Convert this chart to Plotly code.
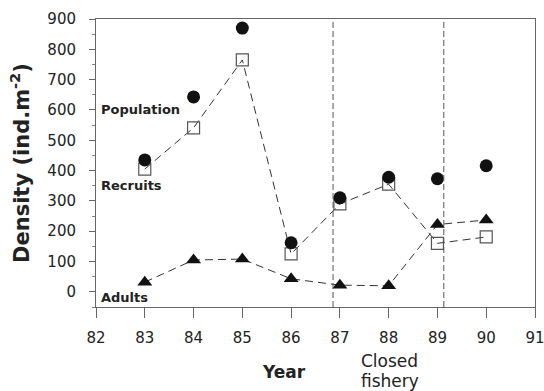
import plotly.graph_objects as go

# Annual density estimates (individuals per m^2)
years = [83, 84, 85, 86, 87, 88, 89, 90]
population = [435, 643, 870, 162, 310, 378, 373, 416]
recruits = [405, 541, 765, 125, 290, 355, 160, 181]
adults = [32, 105, 108, 43, 22, 20, 222, 237]

closure_start = 86.86
closure_end = 89.13

x_ticks = list(range(82, 92))
y_ticks = list(range(0, 1000, 100))

font = "DejaVu Sans, Verdana, sans-serif"
dash = "8px,5px"

fig = go.Figure()

fig.add_trace(go.Scatter(
    x=years, y=recruits, mode="lines+markers",
    line=dict(color="#333333", width=1, dash=dash),
    marker=dict(symbol="square-open", size=12, color="#555555", line=dict(width=1.2)),
    showlegend=False,
))
fig.add_trace(go.Scatter(
    x=years, y=adults, mode="lines+markers",
    line=dict(color="#333333", width=1, dash=dash),
    marker=dict(symbol="triangle-up", size=13, color="#111111"),
    showlegend=False,
))
fig.add_trace(go.Scatter(
    x=years, y=population, mode="markers",
    marker=dict(symbol="circle", size=13, color="#111111"),
    showlegend=False,
))

# Closed fishery period
for xv in (closure_start, closure_end):
    fig.add_shape(type="line", xref="x", yref="paper", x0=xv, x1=xv, y0=0, y1=1,
                  line=dict(color="#555555", width=1, dash="6px,3px"))

# Series labels
for text, yv in (("Population", 600), ("Recruits", 350), ("Adults", -17)):
    fig.add_annotation(x=82.07, y=yv, text=f"<b>{text}</b>", showarrow=False,
                       xanchor="left", yanchor="middle",
                       font=dict(family=font, size=13, color="#222222"))


def below_axis(px):
    """Paper y coordinate for a pixel row below the plot area."""
    return -(px - 307) / 288


fig.add_annotation(xref="paper", yref="paper", x=(284 - 96) / 439, y=below_axis(372),
                   text="<b>Year</b>", showarrow=False, xanchor="center", yanchor="middle",
                   font=dict(family=font, size=17, color="#222222"))
for line_text, px in (("Closed", 361), ("fishery", 381)):
    fig.add_annotation(x=87.4, yref="paper", y=below_axis(px), text=line_text,
                       showarrow=False, xanchor="left", yanchor="middle",
                       font=dict(family=font, size=17, color="#222222"))

fig.update_layout(
    width=544, height=391,
    margin=dict(l=96, r=9, t=19, b=84),
    paper_bgcolor="white", plot_bgcolor="white",
    font=dict(family=font, color="#222222"),
    xaxis=dict(range=[82, 91], tickvals=x_ticks, ticks="outside", ticklen=10,
               tickcolor="#666666", showline=True, linecolor="#666666", mirror=True,
               showgrid=False, zeroline=False, tickfont=dict(size=15),
               ticklabelstandoff=7, automargin=False, ticklabeloverflow="allow"),
    yaxis=dict(range=[-50, 900], tickvals=y_ticks, ticks="outside", ticklen=6,
               tickcolor="#666666", showline=True, linecolor="#666666", mirror=True,
               showgrid=False, zeroline=False, tickfont=dict(size=15),
               ticklabelstandoff=10, automargin=False,
               minor=dict(dtick=50, ticks="outside", ticklen=3, tickcolor="#888888"),
               title=dict(text="<b>Density (ind.m<sup>-2</sup>)</b>", standoff=12,
                          font=dict(size=21))),
)

fig.write_html("out.html")
